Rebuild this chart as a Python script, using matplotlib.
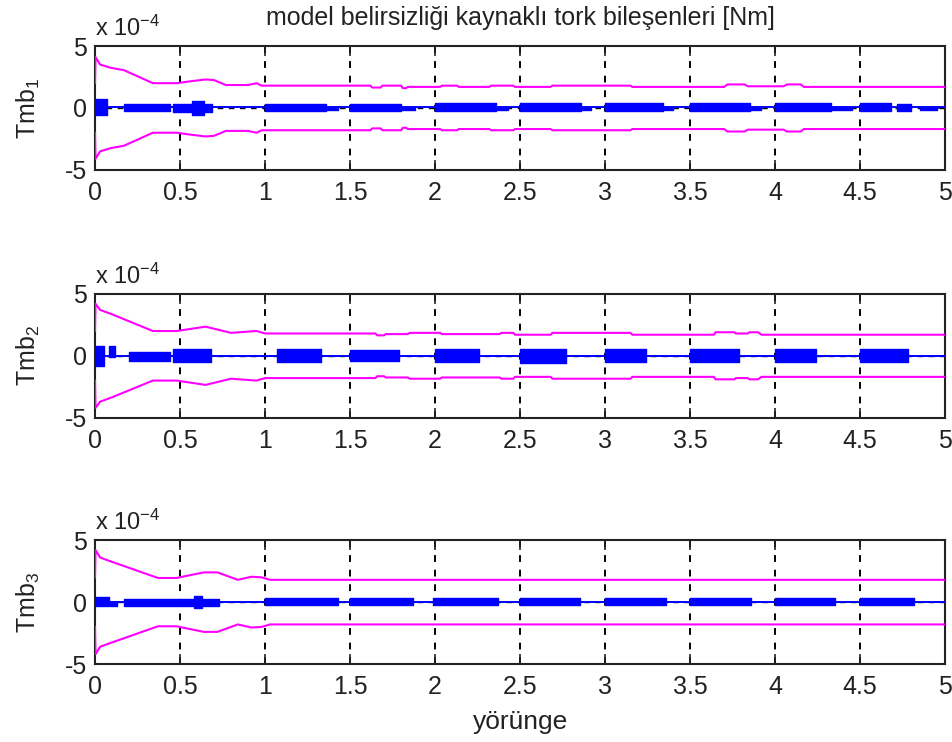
import matplotlib
matplotlib.use("Agg")
import matplotlib.pyplot as plt
import numpy as np

plt.rcParams['font.family'] = ['Liberation Sans', 'DejaVu Sans']
plt.rcParams['mathtext.default'] = 'regular'

# ---------------- data (values in units of 1e-4 Nm) ----------------
title = "model belirsizliği kaynaklı tork bileşenleri [Nm]"
xlabel = "yörünge"
ylabels = ["Tmb$_1$", "Tmb$_2$", "Tmb$_3$"]
xticks = [0, 0.5, 1, 1.5, 2, 2.5, 3, 3.5, 4, 4.5, 5]
xtick_labels = ["0", "0.5", "1", "1.5", "2", "2.5", "3", "3.5", "4", "4.5", "5"]
yticks = [-5, 0, 5]

# upper uncertainty bound (lower bound is its mirror image)
bound1_t = [0, 0.003, 0.03, 0.09, 0.17, 0.34, 0.48, 0.56, 0.65, 0.70, 0.77, 0.90, 0.95, 0.98,
            1.62, 1.63, 1.68, 1.69, 1.80, 1.81, 1.83, 1.84, 2.03, 2.04, 2.13, 2.14, 2.32, 2.33,
            2.46, 2.47, 2.68, 2.69, 3.15, 3.16, 3.70, 3.72, 3.82, 3.84, 4.05, 4.07, 4.15, 4.17, 5.0]
bound1_v = [2.0, 4.1, 3.5, 3.25, 3.05, 2.0, 2.0, 2.15, 2.3, 2.25, 1.85, 1.85, 2.0, 1.8,
            1.8, 1.65, 1.65, 1.8, 1.8, 1.6, 1.6, 1.7, 1.7, 1.8, 1.8, 1.7, 1.7, 1.8,
            1.8, 1.7, 1.7, 1.8, 1.8, 1.7, 1.7, 1.9, 1.9, 1.75, 1.75, 1.9, 1.9, 1.7, 1.7]

bound2_t = [0, 0.003, 0.03, 0.10, 0.34, 0.48, 0.65, 0.80, 0.95, 1.0, 1.65, 1.66, 1.70, 1.71,
            1.84, 1.85, 2.03, 2.04, 2.38, 2.39, 2.46, 2.47, 2.68, 2.69, 3.15, 3.16, 3.64, 3.65,
            3.76, 3.77, 3.84, 3.85, 3.90, 3.92, 5.0]
bound2_v = [2.0, 4.2, 3.7, 3.35, 2.0, 2.0, 2.35, 1.85, 2.0, 1.8, 1.8, 1.65, 1.65, 1.75,
            1.75, 1.85, 1.85, 1.75, 1.75, 1.85, 1.85, 1.7, 1.7, 1.85, 1.85, 1.7, 1.7, 1.9,
            1.9, 1.8, 1.8, 1.9, 1.9, 1.7, 1.7]

bound3_t = [0, 0.003, 0.03, 0.09, 0.37, 0.48, 0.55, 0.64, 0.72, 0.84, 0.92, 0.98, 1.03, 5.0]
bound3_v = [2.0, 4.2, 3.6, 3.3, 1.95, 1.95, 2.15, 2.4, 2.4, 1.8, 2.05, 2.0, 1.8, 1.8]

# blue signal: dense oscillation blocks (start, end, upper envelope, lower envelope)
blk1_start = [0.0, 0.17, 0.46, 0.57, 0.64, 1.0, 1.36, 1.5, 1.80, 2.0, 2.36, 2.5, 2.86, 3.0, 3.34, 3.5, 3.85, 4.0, 4.33, 4.5, 4.72, 4.85]
blk1_end   = [0.07, 0.44, 0.57, 0.64, 0.69, 1.36, 1.43, 1.8, 1.88, 2.36, 2.43, 2.86, 2.92, 3.34, 3.40, 3.85, 3.92, 4.33, 4.45, 4.68, 4.80, 4.95]
blk1_hi    = [0.7, 0.3, 0.35, 0.55, 0.35, 0.35, 0.0, 0.35, 0.0, 0.37, 0.0, 0.37, 0.0, 0.37, 0.0, 0.37, 0.0, 0.37, 0.0, 0.37, 0.35, 0.0]
blk1_lo    = [-0.6, -0.25, -0.35, -0.58, -0.3, -0.25, -0.2, -0.25, -0.2, -0.24, -0.2, -0.24, -0.2, -0.24, -0.2, -0.24, -0.2, -0.24, -0.2, -0.24, -0.24, -0.15]

blk2_start = [0.0, 0.08, 0.20, 0.46, 1.07, 1.5, 2.0, 2.5, 3.0, 3.5, 4.0, 4.5]
blk2_end   = [0.05, 0.12, 0.44, 0.68, 1.33, 1.79, 2.26, 2.77, 3.24, 3.79, 4.24, 4.78]
blk2_hi    = [0.75, 0.75, 0.3, 0.55, 0.58, 0.5, 0.58, 0.58, 0.58, 0.58, 0.58, 0.58]
blk2_lo    = [-0.85, -0.1, -0.45, -0.5, -0.5, -0.45, -0.5, -0.55, -0.5, -0.5, -0.5, -0.5]

blk3_start = [0.0, 0.09, 0.17, 0.58, 1.0, 1.5, 1.99, 2.5, 3.0, 3.5, 4.0, 4.5]
blk3_end   = [0.08, 0.13, 0.73, 0.63, 1.43, 1.87, 2.37, 2.85, 3.36, 3.86, 4.35, 4.82]
blk3_hi    = [0.45, 0.05, 0.25, 0.5, 0.3, 0.3, 0.32, 0.32, 0.32, 0.32, 0.32, 0.32]
blk3_lo    = [-0.35, -0.3, -0.3, -0.45, -0.22, -0.22, -0.22, -0.22, -0.22, -0.22, -0.22, -0.22]

thin_level = [0.05, 0.0, 0.05]   # blue trace level between the dense blocks

bounds = [(bound1_t, bound1_v), (bound2_t, bound2_v), (bound3_t, bound3_v)]
blocks = [(blk1_start, blk1_end, blk1_hi, blk1_lo),
          (blk2_start, blk2_end, blk2_hi, blk2_lo),
          (blk3_start, blk3_end, blk3_hi, blk3_lo)]

# ---------------- figure ----------------
fig = plt.figure(figsize=(9.53, 7.42), dpi=100)
left, width = 0.0997, 0.892
bottoms = [0.771, 0.437, 0.105]
height = 0.167

scale = 1e-4
txt_col = '#222222'
for i in range(3):
    ax = fig.add_axes([left, bottoms[i], width, height])
    bt, bv = bounds[i]
    bt = np.array(bt)
    bv = np.array(bv) * scale
    # black dashed reference at zero
    ax.plot([0, 5], [0, 0], color='black', ls=(0, (4, 4)), lw=1.0, zorder=2)
    # thin blue trace
    ax.plot([0, 5], [thin_level[i] * scale, thin_level[i] * scale], color='#0000ff', lw=1.4, zorder=3)
    s, e, hi, lo = blocks[i]
    for k in range(len(s)):
        ax.fill_between([s[k], e[k]], [lo[k] * scale] * 2, [hi[k] * scale] * 2,
                        color='#0000ff', lw=1.0, edgecolor='#0000ff', zorder=3)
    ax.plot(bt, bv, color='#ff00ff', lw=1.5, zorder=4)
    ax.plot(bt, -bv, color='#ff00ff', lw=1.5, zorder=4)

    ax.set_xlim(0, 5)
    ax.set_ylim(-5 * scale, 5 * scale)
    ax.set_xticks(xticks)
    ax.set_xticklabels(xtick_labels)
    ax.set_yticks([v * scale for v in yticks])
    ax.set_yticklabels([str(v) for v in yticks])
    for xv in xticks[1:-1]:
        ax.axvline(xv, color='black', ls=(0, (3.5, 4)), lw=1.4, zorder=1)
    ax.tick_params(direction='in', top=True, right=True, length=7, width=1.2,
                   labelsize=18, colors=txt_col)
    ax.tick_params(axis='x', pad=8)
    ax.tick_params(axis='y', pad=6)
    for sp in ax.spines.values():
        sp.set_linewidth(1.5)
        sp.set_color(txt_col)
    ax.set_ylabel(ylabels[i], fontsize=18, color=txt_col, labelpad=16)
    ax.text(0.0, 1.04, 'x 10$^{-4}$', transform=ax.transAxes, ha='left', va='bottom',
            fontsize=17, color=txt_col)
    if i == 0:
        ax.set_title(title, fontsize=18, color=txt_col, pad=15)
    if i == 2:
        ax.set_xlabel(xlabel, fontsize=19, color=txt_col, labelpad=8)

fig.savefig("out.png", dpi=100)
